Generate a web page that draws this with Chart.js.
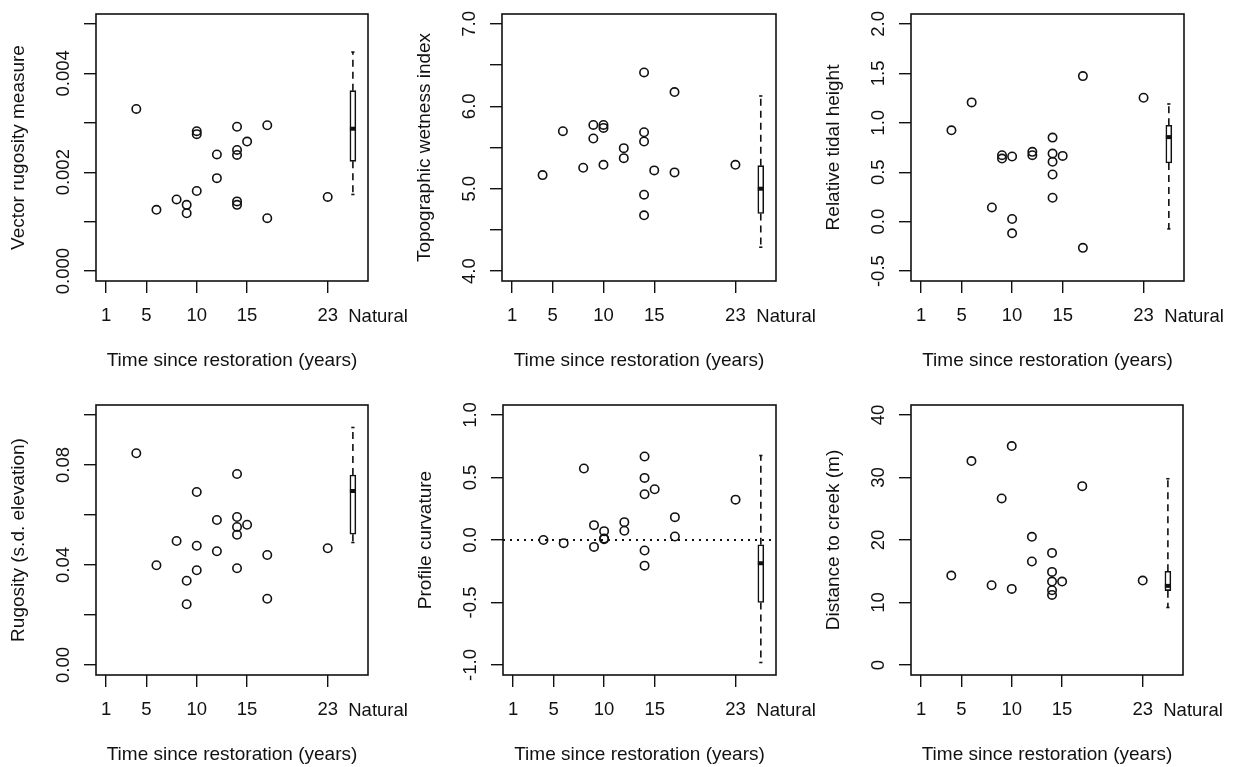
<!DOCTYPE html>
<html>
<head>
<meta charset="utf-8">
<title>Restoration panels</title>
<script src="https://cdn.jsdelivr.net/npm/chart.js@4.4.1/dist/chart.umd.min.js"></script>
<style>
  html, body { margin: 0; padding: 0; background: #fff; width: 1242px; height: 767px; overflow: hidden; }
  .panel { position: absolute; }
</style>
</head>
<body>
<div class="panel" id="w1"><canvas id="c1"></canvas></div>
<div class="panel" id="w2"><canvas id="c2"></canvas></div>
<div class="panel" id="w3"><canvas id="c3"></canvas></div>
<div class="panel" id="w4"><canvas id="c4"></canvas></div>
<div class="panel" id="w5"><canvas id="c5"></canvas></div>
<div class="panel" id="w6"><canvas id="c6"></canvas></div>
<script>
// years since restoration for each sampled site (creek panel has fewer sites)
const years = [4, 6, 8, 9, 9, 10, 10, 10, 12, 12, 14, 14, 14, 14, 14, 15, 17, 17, 23];
const creekYears = [4, 6, 8, 9, 10, 10, 12, 12, 14, 14, 14, 14, 14, 15, 17, 23];

const vectorRugosity = [0.00328, 0.00124, 0.00145, 0.00134, 0.00117, 0.00283, 0.00277, 0.00162, 0.00236, 0.00188,
                        0.00292, 0.00245, 0.00235, 0.00141, 0.00134, 0.00262, 0.00295, 0.00107, 0.00150];
const wetness = [5.165, 5.698, 5.254, 5.774, 5.609, 5.774, 5.738, 5.290, 5.492, 5.371,
                 6.411, 5.685, 5.573, 4.927, 4.677, 5.222, 6.173, 5.198, 5.290];
const tidalHeight = [0.924, 1.206, 0.144, 0.672, 0.638, 0.659, 0.027, -0.118, 0.706, 0.672,
                     0.850, 0.689, 0.605, 0.477, 0.242, 0.665, 1.472, -0.265, 1.253];
const rugositySd = [0.0847, 0.0399, 0.0496, 0.0337, 0.0243, 0.0692, 0.0477, 0.0379, 0.0580, 0.0455,
                    0.0764, 0.0592, 0.0552, 0.0521, 0.0387, 0.0561, 0.0440, 0.0265, 0.0467];
const curvature = [0.0, -0.025, 0.572, 0.119, -0.055, 0.071, 0.012, 0.007, 0.143, 0.074,
                   0.668, 0.497, 0.366, -0.084, -0.205, 0.406, 0.183, 0.028, 0.323];
const creekDist = [14.31, 32.63, 12.76, 26.65, 35.03, 12.18, 20.51, 16.56,
                   17.94, 14.90, 13.35, 11.96, 11.21, 13.35, 28.62, 13.51];

// natural marsh boxplots: [lower whisker, Q1, median, Q3, upper whisker]
const natVector = [0.00155, 0.00222, 0.00288, 0.00365, 0.00443];
const natWetness = [4.29, 4.70, 5.00, 5.28, 6.125];
const natTidal = [-0.073, 0.594, 0.855, 0.975, 1.19];
const natRugosity = [0.0490, 0.0523, 0.0696, 0.0760, 0.0950];
const natCurvature = [-0.98, -0.50, -0.186, -0.038, 0.676];
const natCreek = [9.2, 11.9, 12.66, 15.0, 29.8];

// axis ticks
const xTicks = [1, 5, 10, 15, 23];
const naturalPos = 25.5;
const naturalLabelPos = 28;

const vectorTicks = [0, 0.001, 0.002, 0.003, 0.004, 0.005];
const vectorLabels = ['0.000', '', '0.002', '', '0.004', ''];
const wetnessTicks = [4.0, 4.5, 5.0, 5.5, 6.0, 6.5, 7.0];
const wetnessLabels = ['4.0', '', '5.0', '', '6.0', '', '7.0'];
const tidalTicks = [-0.5, 0.0, 0.5, 1.0, 1.5, 2.0];
const tidalLabels = ['-0.5', '0.0', '0.5', '1.0', '1.5', '2.0'];
const rugosityTicks = [0, 0.02, 0.04, 0.06, 0.08, 0.10];
const rugosityLabels = ['0.00', '', '0.04', '', '0.08', ''];
const curvatureTicks = [-1.0, -0.5, 0.0, 0.5, 1.0];
const curvatureLabels = ['-1.0', '-0.5', '0.0', '0.5', '1.0'];
const creekTicks = [0, 10, 20, 30, 40];
const creekLabels = ['0', '10', '20', '30', '40'];

const FONT = '"Liberation Sans", Arial, Helvetica, sans-serif';
const INK = '#111';
const LEFT = 96, TOP = 14, RIGHT = 60, BOTTOM = 91;

const panels = [
  {n: 1, box: [96, 14, 368, 281], title: 'Vector rugosity measure', xs: years, ys: vectorRugosity, nat: natVector,
   min: -0.0002, max: 0.0052, ticks: vectorTicks, labels: vectorLabels},
  {n: 2, box: [502, 14, 776, 281], title: 'Topographic wetness index', xs: years, ys: wetness, nat: natWetness,
   min: 3.88, max: 7.12, ticks: wetnessTicks, labels: wetnessLabels},
  {n: 3, box: [911, 14, 1184, 281], title: 'Relative tidal height', xs: years, ys: tidalHeight, nat: natTidal,
   min: -0.6, max: 2.1, ticks: tidalTicks, labels: tidalLabels},
  {n: 4, box: [96, 405, 368, 675], title: 'Rugosity (s.d. elevation)', xs: years, ys: rugositySd, nat: natRugosity,
   min: -0.004, max: 0.104, ticks: rugosityTicks, labels: rugosityLabels},
  {n: 5, box: [503, 405, 776, 675], title: 'Profile curvature', xs: years, ys: curvature, nat: natCurvature,
   min: -1.08, max: 1.08, ticks: curvatureTicks, labels: curvatureLabels, zeroLine: true},
  {n: 6, box: [911, 405, 1183, 675], title: 'Distance to creek (m)', xs: creekYears, ys: creekDist, nat: natCreek,
   min: -1.6, max: 41.6, ticks: creekTicks, labels: creekLabels}
];

// box frame, rotated y labels and the "Natural" category label
const framePlugin = {
  id: 'frame',
  afterDraw(chart, args, opts) {
    const {ctx, chartArea: a, scales: {x, y}} = chart;
    ctx.save();
    ctx.strokeStyle = INK;
    ctx.lineWidth = 1.6;
    ctx.strokeRect(a.left, a.top, a.right - a.left, a.bottom - a.top);
    ctx.fillStyle = INK;
    ctx.font = '18.5px ' + FONT;
    ctx.textAlign = 'center';
    ctx.textBaseline = 'middle';
    ctx.fillText('Natural', x.getPixelForValue(naturalLabelPos), a.bottom + 35.5);
    opts.values.forEach((v, i) => {
      if (!opts.labels[i]) return;
      ctx.save();
      ctx.translate(a.left - 32, y.getPixelForValue(v));
      ctx.rotate(-Math.PI / 2);
      ctx.fillText(opts.labels[i], 0, 0);
      ctx.restore();
    });
    ctx.restore();
  }
};

function makePanel(p) {
  const [bl, bt, br, bb] = p.box;
  const wrap = document.getElementById('w' + p.n);
  wrap.style.left = (bl - LEFT) + 'px';
  wrap.style.top = (bt - TOP) + 'px';
  wrap.style.width = (LEFT + (br - bl) + RIGHT) + 'px';
  wrap.style.height = (TOP + (bb - bt) + BOTTOM) + 'px';

  const [wLo, q1, med, q3, wHi] = p.nat;
  const datasets = [
    {type: 'scatter', data: [{x: naturalPos, y: med}], pointStyle: 'line', pointRadius: 3,
     borderColor: INK, pointBorderWidth: 4},
    {type: 'scatter', data: [{x: naturalPos, y: wLo}, {x: naturalPos, y: wHi}], pointStyle: 'line',
     pointRadius: 1.6, borderColor: INK, pointBorderWidth: 1.6},
    {type: 'line', data: [{x: naturalPos, y: q3}, {x: naturalPos, y: wHi}], borderColor: INK, borderWidth: 1.6,
     borderDash: [7, 5], pointRadius: 0, showLine: true, fill: false},
    {type: 'line', data: [{x: naturalPos, y: q1}, {x: naturalPos, y: wLo}], borderColor: INK, borderWidth: 1.6,
     borderDash: [7, 5], pointRadius: 0, showLine: true, fill: false},
    {type: 'bar', data: [{x: naturalPos, y: [q1, q3]}], backgroundColor: '#fff', borderColor: INK,
     borderWidth: 1.6, borderSkipped: false, barThickness: 6},
    {type: 'scatter', data: p.xs.map((x, i) => ({x: x, y: p.ys[i]})), pointStyle: 'circle', pointRadius: 4.2,
     borderColor: INK, backgroundColor: 'rgba(0,0,0,0)', pointBorderWidth: 1.6}
  ];
  if (p.zeroLine) {
    datasets.push({type: 'line', data: [{x: 0, y: 0}, {x: 27, y: 0}], borderColor: INK, borderWidth: 1.8,
      borderDash: [2, 5], borderCapStyle: 'butt', pointRadius: 0, showLine: true, fill: false});
  }

  new Chart(document.getElementById('c' + p.n), {
    type: 'scatter',
    data: {datasets: datasets},
    options: {
      animation: false,
      responsive: true,
      maintainAspectRatio: false,
      devicePixelRatio: 1,
      events: [],
      layout: {padding: {left: 0, top: TOP, right: RIGHT, bottom: 0}},
      plugins: {legend: {display: false}, tooltip: {enabled: false},
                frame: {values: p.ticks, labels: p.labels}},
      scales: {
        x: {
          type: 'linear', min: 0, max: 27, offset: false, beginAtZero: false,
          afterBuildTicks: s => { s.ticks = xTicks.map(v => ({value: v})); },
          afterFit: s => { s.height = BOTTOM; },
          ticks: {autoSkip: false, maxRotation: 0, minRotation: 0, color: INK, padding: 12,
                  font: {family: FONT, size: 18.5}, callback: v => String(v)},
          grid: {drawOnChartArea: false, drawTicks: true, tickLength: 12, color: INK, lineWidth: 1.4, offset: false},
          border: {display: false},
          title: {display: true, text: 'Time since restoration (years)', color: INK,
                  font: {family: FONT, size: 19}, padding: {top: 0, bottom: 0}}
        },
        y: {
          type: 'linear', min: p.min, max: p.max, beginAtZero: false,
          afterBuildTicks: s => { s.ticks = p.ticks.map(v => ({value: v})); },
          afterFit: s => { s.width = LEFT; },
          ticks: {display: false},
          grid: {drawOnChartArea: false, drawTicks: true, tickLength: 12, color: INK, lineWidth: 1.4},
          border: {display: false},
          title: {display: true, text: p.title, color: INK,
                  font: {family: FONT, size: 19}, padding: {top: 7, bottom: 0}}
        }
      }
    },
    plugins: [framePlugin]
  });
}

panels.forEach(makePanel);
</script>
</body>
</html>
